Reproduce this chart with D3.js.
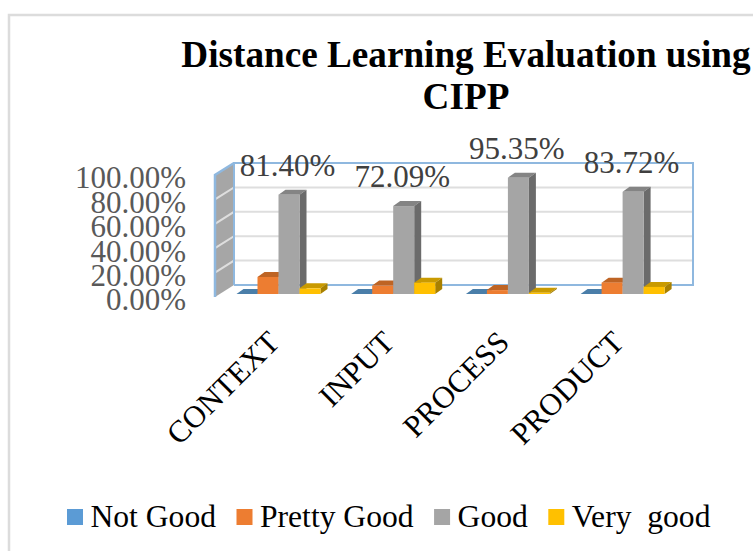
<!DOCTYPE html>
<html>
<head>
<meta charset="utf-8">
<script src="https://cdn.jsdelivr.net/npm/d3@7"></script>
<style>
    html, body { margin: 0; background: #fff; }
    svg { display: block; font-family: "Liberation Serif", serif; }
</style>
</head>
<body>
<div id="chart"></div>
<script>
const categories = ['CONTEXT', 'INPUT', 'PROCESS', 'PRODUCT'];
const seriesNames = ['Not Good', 'Pretty Good', 'Good', 'Very  good'];
const seriesColours = ['#5b9bd5', '#ed7d31', '#a5a5a5', '#ffc000'];
const sideColours = ['#3c6e9c', '#b25d24', '#6b6b6b', '#a88000'];
const topColours = ['#4a7ea9', '#be6424', '#848484', '#c99a00'];

const notGood = [0, 0, 0, 0];
const prettyGood = [13.95, 6.98, 3.2, 9.30];
const good = [81.40, 72.09, 95.35, 83.72];
const veryGood = [4.65, 9.30, 1.00, 5.8];
const seriesValues = [notGood, prettyGood, good, veryGood];

const yTicks = [0, 20, 40, 60, 80, 100];

const width = 753, height = 551;
const blue = '#8fb8df', grid = '#dedede';

// Fake 3D: bars and walls are sheared up and to the right
const barDepth = {dx: 7, dy: -5};
const wallDepth = {dx: 19, dy: -12};

const svg = d3.select('#chart').append('svg')
    .attr('width', width)
    .attr('height', height);

// Chart frame runs off the right and bottom of the crop
svg.append('path')
    .attr('d', `M9,${height}V15H${width}`)
    .attr('fill', 'none')
    .attr('stroke', '#dcdcdc')
    .attr('stroke-width', 2.5);

// Title
svg.append('text')
    .attr('x', 466).attr('y', 67)
    .attr('text-anchor', 'middle')
    .attr('font-size', 37.2).attr('font-weight', 'bold')
    .text('Distance Learning Evaluation using');
svg.append('text')
    .attr('x', 466).attr('y', 109)
    .attr('text-anchor', 'middle')
    .attr('font-size', 37.2).attr('font-weight', 'bold')
    .text('CIPP');

// Scales
const x = d3.scaleBand().domain(categories).range([236.5, 695.3]);
const xSeries = d3.scaleBand().domain(seriesNames).range([0, 84]);
const yBar = d3.scaleLinear().domain([0, 100]).range([294, 172]);
const yBack = d3.scaleLinear().domain([0, 100]).range([285, 163]);
const yFront = d3.scaleLinear().domain([0, 100]).range([297, 175]);

const wallLeft = 215, wallRight = 693 - wallDepth.dx;

// Left wall
svg.append('path')
    .attr('d', `M${wallLeft},${yFront(0)}L${wallLeft + wallDepth.dx},${yBack(0)}V${yBack(100)}L${wallLeft},${yFront(100)}Z`)
    .attr('fill', '#a6a6a6');

// Gridlines, on the back wall then round onto the left wall
svg.append('g').selectAll('path').data(yTicks.slice(1, -1)).join('path')
    .attr('d', d => `M${wallLeft},${yFront(d)}L${wallLeft + wallDepth.dx},${yBack(d)}H${wallRight + wallDepth.dx}`)
    .attr('fill', 'none')
    .attr('stroke', grid)
    .attr('stroke-width', 2);

// Back wall outline
svg.append('path')
    .attr('d', `M${wallLeft + wallDepth.dx},${yBack(0)}V${yBack(100)}H${wallRight + wallDepth.dx}V${yBack(0)}H${wallLeft + wallDepth.dx}`)
    .attr('fill', 'none')
    .attr('stroke', blue)
    .attr('stroke-width', 2);
svg.append('path')
    .attr('d', `M${wallLeft},${yFront(0)}V${yFront(100)}L${wallLeft + wallDepth.dx},${yBack(100)}`)
    .attr('fill', 'none')
    .attr('stroke', blue)
    .attr('stroke-width', 2.5);

// Value axis
const yAxis = d3.axisLeft(yFront)
    .tickValues(yTicks)
    .tickSize(0)
    .tickPadding(0)
    .tickFormat(d => d3.format('.2f')(d) + '%');
svg.append('g')
    .attr('transform', 'translate(186,3)')
    .call(yAxis)
    .call(g => g.select('.domain').remove())
    .selectAll('text')
    .attr('font-family', '"Liberation Serif", serif')
    .attr('font-size', 31)
    .attr('fill', '#595959');

// Bars, one group per category
const bars = [];
categories.forEach((c, i) => {
    seriesNames.forEach((s, j) => {
        bars.push({category: c, series: j, value: seriesValues[j][i]});
    });
});

const barG = svg.append('g').selectAll('g').data(bars).join('g');
const barLeft = d => x(d.category) + xSeries(seriesNames[d.series]);
const barW = xSeries.bandwidth();

barG.append('path') // top face
    .attr('d', d => {
        const l = barLeft(d), t = yBar(d.value);
        return `M${l},${t}l${barDepth.dx},${barDepth.dy}h${barW}l${-barDepth.dx},${-barDepth.dy}Z`;
    })
    .attr('fill', d => topColours[d.series]);
barG.append('path') // side face
    .attr('d', d => {
        const r = barLeft(d) + barW, t = yBar(d.value), b = yBar(0);
        return `M${r},${t}l${barDepth.dx},${barDepth.dy}V${b + barDepth.dy}L${r},${b}Z`;
    })
    .attr('fill', d => sideColours[d.series]);
barG.append('rect') // front face
    .attr('x', barLeft)
    .attr('y', d => yBar(d.value))
    .attr('width', barW)
    .attr('height', d => yBar(0) - yBar(d.value))
    .attr('fill', d => seriesColours[d.series]);

// Data labels only on the Good series
svg.append('g').selectAll('text').data(bars.filter(d => d.series === 2)).join('text')
    .attr('x', d => barLeft(d) + barW / 2 - 1.5)
    .attr('y', d => yBar(d.value) - 19)
    .attr('text-anchor', 'middle')
    .attr('font-size', 31)
    .attr('fill', '#404040')
    .text(d => d3.format('.2f')(d.value) + '%');

// Category labels
svg.append('g').selectAll('text').data(categories).join('text')
    .attr('transform', d => `translate(${x(d) + 45},344) rotate(-45)`)
    .attr('text-anchor', 'end')
    .attr('font-size', 31)
    .attr('fill', '#000')
    .text(d => d);

// Legend
let legendX = 67;
const legend = svg.append('g');
seriesNames.forEach((s, j) => {
    legend.append('rect')
        .attr('x', legendX).attr('y', 509)
        .attr('width', 16).attr('height', 16)
        .attr('fill', seriesColours[j]);
    const label = legend.append('text')
        .attr('x', legendX + 23.5).attr('y', 527)
        .attr('font-size', 31.6)
        .attr('fill', '#000')
        .style('white-space', 'pre')
        .text(s);
    legendX += 23.5 + label.node().getComputedTextLength() + 20.5;
});
</script>
</body>
</html>
